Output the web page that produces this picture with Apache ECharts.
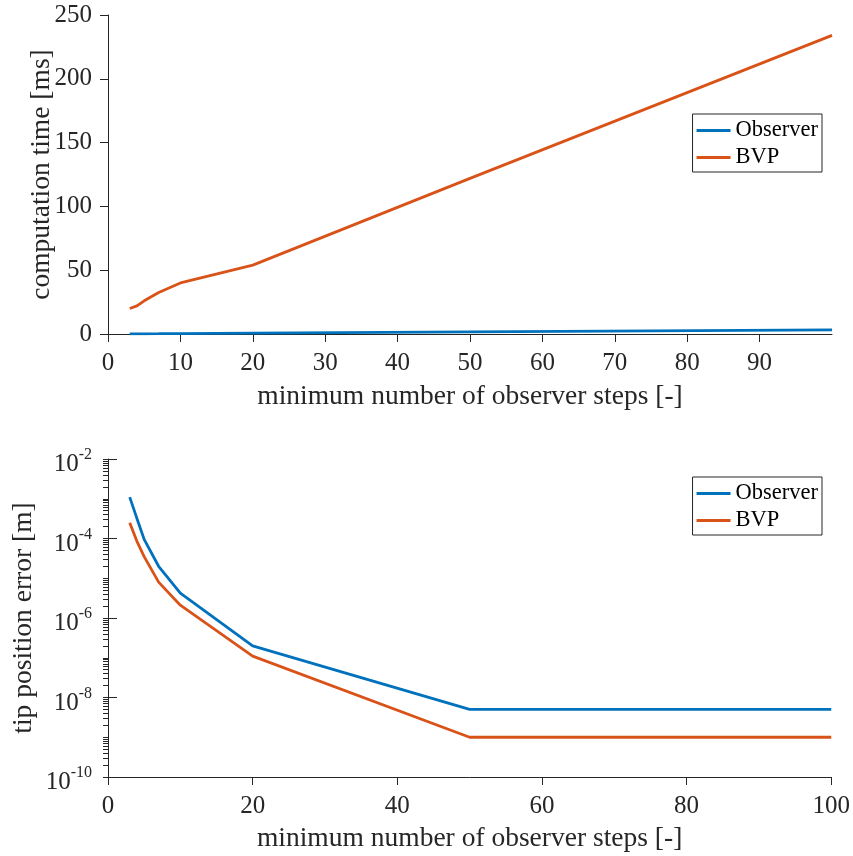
<!DOCTYPE html>
<html>
<head>
<meta charset="utf-8">
<script src="https://cdn.jsdelivr.net/npm/echarts@6/dist/echarts.min.js"></script>
<style>
  html, body { margin: 0; padding: 0; background: #fff; }
  #chart { width: 853px; height: 856px; }
</style>
</head>
<body>
<div id="chart"></div>
<script>
// Sample points: minimum number of observer steps
const steps = [3, 4, 5, 7, 10, 20, 50, 100];

// Computation time [ms]
const observerTime = [0.1, 0.13, 0.16, 0.22, 0.32, 0.64, 1.6, 3.2];
const bvpTime = [20, 22, 26, 32.5, 40, 54, 122, 234];

// Tip position error [m]
const observerError = [1.1e-3, 3.2e-4, 9.5e-5, 2e-5, 4.2e-6, 2e-7, 5e-9, 5e-9];
const bvpError = [2.5e-4, 8.5e-5, 3.5e-5, 8e-6, 2.1e-6, 1.1e-7, 1e-9, 1e-9];

// Tick values
const topStepTicks = [0, 10, 20, 30, 40, 50, 60, 70, 80, 90];
const bottomStepTicks = [0, 20, 40, 60, 80, 100];
const timeTicks = [0, 50, 100, 150, 200, 250];
const errorDecades = [1e-2, 1e-4, 1e-6, 1e-8, 1e-10];

// Minor ticks of the log axis: 1..9 x 10^k
const errorMinorTicks = [];
for (let k = -10; k <= -3; k++) {
  for (let m = 1; m <= 9; m++) errorMinorTicks.push(m * Math.pow(10, k));
}
errorMinorTicks.push(1e-2);

const FONT = "'Liberation Serif', 'Times New Roman', serif";
const AXIS_COLOR = '#262626';
const BLUE = '#0072BD';
const ORANGE = '#D95319';
const LINE_WIDTH = 2.8;

const pairs = (ys) => steps.map((s, i) => [s, ys[i]]);

const axisLine = { show: true, onZero: false, lineStyle: { color: AXIS_COLOR, width: 1 } };
const tickLabel = { color: AXIS_COLOR, fontFamily: FONT, fontSize: 25 };
const nameStyle = { color: AXIS_COLOR, fontFamily: FONT, fontSize: 27.5 };

function legendAt(top) {
  return {
    data: ['Observer', 'BVP'],
    orient: 'vertical',
    right: 31,
    top: top,
    icon: 'rect',
    itemWidth: 34,
    itemHeight: 3,
    itemGap: 4,
    padding: [5, 4, 3, 4],
    borderColor: AXIS_COLOR,
    borderWidth: 1,
    borderRadius: 0,
    backgroundColor: '#fff',
    selectedMode: false,
    textStyle: { color: '#000', fontFamily: FONT, fontSize: 22.5, lineHeight: 22 }
  };
}

const chart = echarts.init(document.getElementById('chart'), null, { renderer: 'canvas' });

chart.setOption({
  animation: false,
  backgroundColor: '#fff',
  grid: [
    { left: 108, right: 21, top: 15, height: 319 },
    { left: 108, right: 21, top: 459, height: 318 }
  ],
  legend: [legendAt(114), legendAt(477)],
  xAxis: [
    {
      type: 'value', gridIndex: 0, min: 0, max: 100, interval: 10,
      axisLine: axisLine,
      axisTick: { show: true, length: 8, inside: false, customValues: topStepTicks, lineStyle: { color: AXIS_COLOR } },
      axisLabel: Object.assign({ margin: 17, customValues: topStepTicks }, tickLabel),
      splitLine: { show: false },
      name: 'minimum number of observer steps [-]',
      nameLocation: 'middle', nameGap: 49, nameMoveOverlap: false, nameTextStyle: nameStyle
    },
    {
      type: 'value', gridIndex: 1, min: 0, max: 100, interval: 20,
      axisLine: axisLine,
      axisTick: { show: true, length: 8, lineStyle: { color: AXIS_COLOR } },
      axisLabel: Object.assign({ margin: 17, customValues: bottomStepTicks }, tickLabel),
      splitLine: { show: false },
      name: 'minimum number of observer steps [-]',
      nameLocation: 'middle', nameGap: 48, nameMoveOverlap: false, nameTextStyle: nameStyle
    }
  ],
  yAxis: [
    {
      type: 'value', gridIndex: 0, min: 0, max: 250, interval: 50,
      axisLine: axisLine,
      axisTick: { show: true, length: 8, lineStyle: { color: AXIS_COLOR } },
      axisLabel: Object.assign({ margin: 16, customValues: timeTicks }, tickLabel),
      splitLine: { show: false },
      name: 'computation time [ms]',
      nameLocation: 'middle', nameGap: 52, nameMoveOverlap: false, nameTextStyle: nameStyle
    },
    {
      type: 'log', logBase: 10, gridIndex: 1, min: 1e-10, max: 1e-2,
      axisLine: axisLine,
      axisTick: { show: true, length: 5, customValues: errorMinorTicks, lineStyle: { color: AXIS_COLOR } },
      axisLabel: {
        margin: 16,
        customValues: errorDecades,
        padding: [6, 0, 0, 0],
        formatter: (v) => '{b|10}{s|' + Math.round(Math.log10(v)) + '}',
        rich: {
          b: { color: AXIS_COLOR, fontFamily: FONT, fontSize: 25, lineHeight: 30, verticalAlign: 'bottom' },
          s: { color: AXIS_COLOR, fontFamily: FONT, fontSize: 16, lineHeight: 16, verticalAlign: 'top' }
        }
      },
      splitLine: { show: false },
      name: 'tip position error [m]',
      nameLocation: 'middle', nameGap: 70, nameMoveOverlap: false, nameTextStyle: nameStyle
    },
    {
      // major decade ticks drawn longer over the minor ones
      type: 'log', logBase: 10, gridIndex: 1, min: 1e-10, max: 1e-2,
      axisLine: { show: false },
      axisTick: { show: true, length: 9, customValues: errorDecades, lineStyle: { color: AXIS_COLOR } },
      axisLabel: { show: false },
      splitLine: { show: false }
    }
  ],
  series: [
    { name: 'Observer', type: 'line', xAxisIndex: 0, yAxisIndex: 0, data: pairs(observerTime),
      symbol: 'none', color: BLUE, lineStyle: { width: LINE_WIDTH, color: BLUE } },
    { name: 'BVP', type: 'line', xAxisIndex: 0, yAxisIndex: 0, data: pairs(bvpTime),
      symbol: 'none', color: ORANGE, lineStyle: { width: LINE_WIDTH, color: ORANGE } },
    { name: 'Observer', type: 'line', xAxisIndex: 1, yAxisIndex: 1, data: pairs(observerError),
      symbol: 'none', color: BLUE, lineStyle: { width: LINE_WIDTH, color: BLUE } },
    { name: 'BVP', type: 'line', xAxisIndex: 1, yAxisIndex: 1, data: pairs(bvpError),
      symbol: 'none', color: ORANGE, lineStyle: { width: LINE_WIDTH, color: ORANGE } }
  ]
});
</script>
</body>
</html>
